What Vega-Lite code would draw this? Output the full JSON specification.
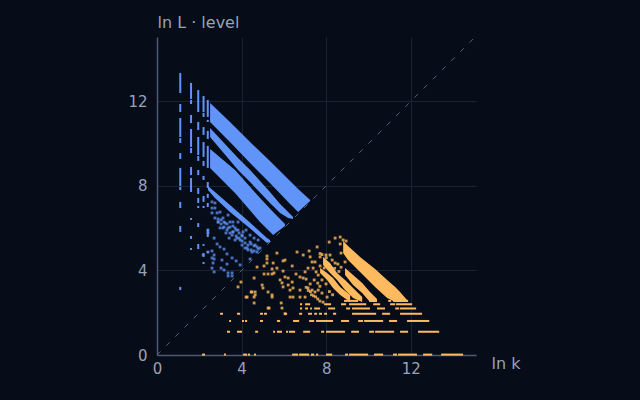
{"$schema":"https://vega.github.io/schema/vega-lite/v6.json","width":319,"height":318,"autosize":{"type":"none"},"padding":{"left":157,"top":37,"right":164,"bottom":45},"background":"#060c18","config":{"view":{"stroke":null},"font":"DejaVu Sans"},
"datasets":{"diag":[{"k":0,"v":0},{"k":15.05,"v":15.05}],
"cols":[{"k":1.1,"a":13.34,"b":12.39},{"k":1.1,"a":11.87,"b":11.49},{"k":1.1,"a":11.21,"b":10.31},{"k":1.1,"a":10.26,"b":10.03},{"k":1.1,"a":9.55,"b":9.27},{"k":1.1,"a":8.85,"b":7.99},{"k":1.1,"a":7.95,"b":7.8},{"k":1.1,"a":7.24,"b":6.95},{"k":1.1,"a":6.1,"b":5.82},{"k":1.1,"a":3.22,"b":3.07},
{"k":1.61,"a":12.87,"b":12.11},{"k":1.61,"a":12.06,"b":11.87},{"k":1.61,"a":11.35,"b":10.97},{"k":1.61,"a":10.69,"b":9.84},{"k":1.61,"a":9.79,"b":9.55},{"k":1.61,"a":8.89,"b":8.51},{"k":1.61,"a":8.37,"b":7.71},{"k":1.61,"a":6.48,"b":6.39},{"k":1.61,"a":5.63,"b":5.49},{"k":1.61,"a":5.06,"b":4.97},
{"k":1.95,"a":12.53,"b":11.49},{"k":1.95,"a":11.02,"b":10.64},{"k":1.95,"a":10.31,"b":9.46},{"k":1.95,"a":9.41,"b":9.18},{"k":1.95,"a":8.75,"b":8.51},{"k":1.95,"a":7.9,"b":7.62},{"k":1.95,"a":7.43,"b":7.19},{"k":1.95,"a":7.05,"b":6.95},{"k":1.95,"a":6.24,"b":6.05},{"k":1.95,"a":5.25,"b":5.01},
{"k":2.2,"a":12.25,"b":11.49},{"k":2.2,"a":11.45,"b":11.26},{"k":2.2,"a":10.78,"b":10.41},{"k":2.2,"a":10.07,"b":9.37},{"k":2.2,"a":9.18,"b":8.94},{"k":2.2,"a":8.47,"b":8.28},{"k":2.2,"a":7.52,"b":7.24},{"k":2.2,"a":7.05,"b":6.95},{"k":2.2,"a":5.25,"b":5.16},{"k":2.2,"a":4.82,"b":4.64},{"k":2.2,"a":4.4,"b":4.3},
{"k":2.4,"a":12.06,"b":11.26},{"k":2.4,"a":11.12,"b":11.02},{"k":2.4,"a":10.6,"b":10.22},{"k":2.4,"a":9.89,"b":8.85},{"k":2.4,"a":8.18,"b":7.9},{"k":2.4,"a":7.62,"b":7.43},{"k":2.4,"a":7.19,"b":7},{"k":2.4,"a":5.96,"b":5.58},{"k":2.4,"a":4.92,"b":4.82}],
"blueBands":[{"g":"1","k":2.51,"a":11.92,"b":11.02},{"g":"1","k":3.45,"a":11.02,"b":10.07},{"g":"1","k":4.4,"a":10.07,"b":9.08},{"g":"1","k":5.34,"a":9.18,"b":8.14},{"g":"1","k":6.29,"a":8.23,"b":7.14},{"g":"1","k":6.67,"a":7.85,"b":6.76},{"g":"1","k":7.24,"a":7.33,"b":7.28},
{"g":"2","k":2.51,"a":10.74,"b":10.31},{"g":"2","k":3.83,"a":9.32,"b":8.75},{"g":"2","k":4.4,"a":8.75,"b":8.18},{"g":"2","k":5.34,"a":7.71,"b":7.19},{"g":"2","k":5.82,"a":7.14,"b":6.72},{"g":"2","k":6.2,"a":6.76,"b":6.48},{"g":"2","k":6.43,"a":6.53,"b":6.43},
{"g":"3","k":2.51,"a":9.74,"b":8.85},{"g":"3","k":3.69,"a":8.75,"b":7.66},{"g":"3","k":4.87,"a":7.43,"b":6.29},{"g":"3","k":5.49,"a":6.76,"b":5.68},{"g":"3","k":6.05,"a":6.2,"b":6.1},
{"g":"4","k":2.41,"a":7.99,"b":7.8},{"g":"4","k":2.74,"a":7.71,"b":7.43},{"g":"4","k":3.45,"a":7.09,"b":6.76},{"g":"4","k":4.26,"a":6.39,"b":6.1},{"g":"4","k":5.2,"a":5.53,"b":5.3},{"g":"4","k":5.34,"a":5.44,"b":5.34}],
"orangeBands":[{"g":"1","k":8.8,"a":5.39,"b":4.82},{"g":"1","k":9.03,"a":5.16,"b":4.49},{"g":"1","k":9.6,"a":4.64,"b":3.93},{"g":"1","k":10.31,"a":4.07,"b":3.22},{"g":"1","k":10.88,"a":3.55,"b":2.7},{"g":"1","k":11.26,"a":3.22,"b":2.51},{"g":"1","k":11.49,"a":2.98,"b":2.51},{"g":"1","k":11.82,"a":2.6,"b":2.51},
{"g":"2","k":8.89,"a":4.11,"b":3.78},{"g":"2","k":9.27,"a":3.78,"b":3.31},{"g":"2","k":9.7,"a":3.41,"b":2.93},{"g":"2","k":10.07,"a":2.98,"b":2.51},{"g":"2","k":10.4,"a":2.65,"b":2.51},
{"g":"3","k":7.85,"a":4.64,"b":4.26},{"g":"3","k":8.18,"a":4.35,"b":3.88},{"g":"3","k":8.51,"a":3.88,"b":3.55},{"g":"3","k":8.89,"a":3.55,"b":3.07},{"g":"3","k":9.27,"a":3.17,"b":2.7},{"g":"3","k":9.7,"a":2.74,"b":2.51},
{"g":"4","k":7.71,"a":4.11,"b":3.88},{"g":"4","k":8.04,"a":3.88,"b":3.55},{"g":"4","k":8.32,"a":3.64,"b":3.17},{"g":"4","k":8.66,"a":3.22,"b":2.84},{"g":"4","k":9.13,"a":2.84,"b":2.51}],
"runs":[{"v":0.02,"a":2.13,"b":2.27},{"v":0.02,"a":3.17,"b":3.26},{"v":0.02,"a":4.07,"b":4.26},{"v":0.02,"a":4.3,"b":4.4},{"v":0.02,"a":4.59,"b":4.68},{"v":0.02,"a":6.39,"b":6.67},{"v":0.02,"a":6.72,"b":7.19},{"v":0.02,"a":7.28,"b":7.43},{"v":0.02,"a":7.52,"b":7.62},{"v":0.02,"a":7.99,"b":8.28},{"v":0.02,"a":8.89,"b":9.03},{"v":0.02,"a":9.08,"b":9.98},{"v":0.02,"a":10.26,"b":10.69},{"v":0.02,"a":11.16,"b":11.35},{"v":0.02,"a":11.4,"b":12.29},{"v":0.02,"a":12.58,"b":13.01},{"v":0.02,"a":13.43,"b":14.47},
{"v":1.1,"a":3.31,"b":3.45},{"v":1.1,"a":3.78,"b":4.02},{"v":1.1,"a":4.64,"b":4.78},{"v":1.1,"a":5.49,"b":5.58},{"v":1.1,"a":5.67,"b":5.91},{"v":1.1,"a":6.1,"b":6.2},{"v":1.1,"a":6.24,"b":6.53},{"v":1.1,"a":6.91,"b":7.24},{"v":1.1,"a":7.76,"b":7.9},{"v":1.1,"a":7.99,"b":8.89},{"v":1.1,"a":9.18,"b":9.55},{"v":1.1,"a":10.03,"b":10.26},{"v":1.1,"a":10.31,"b":11.21},{"v":1.1,"a":11.49,"b":11.87},{"v":1.1,"a":12.34,"b":13.34},
{"v":1.61,"a":3.41,"b":3.5},{"v":1.61,"a":4.02,"b":4.11},{"v":1.61,"a":4.16,"b":4.26},{"v":1.61,"a":4.87,"b":5.01},{"v":1.61,"a":5.67,"b":5.82},{"v":1.61,"a":6.43,"b":6.72},{"v":1.61,"a":7.19,"b":7.43},{"v":1.61,"a":7.52,"b":8.32},{"v":1.61,"a":8.7,"b":9.08},{"v":1.61,"a":9.51,"b":9.74},{"v":1.61,"a":9.79,"b":10.69},{"v":1.61,"a":10.97,"b":11.35},{"v":1.61,"a":11.82,"b":12.87},
{"v":1.95,"a":2.98,"b":3.12},{"v":1.95,"a":3.78,"b":3.93},{"v":1.95,"a":4.87,"b":5.01},{"v":1.95,"a":5.06,"b":5.2},{"v":1.95,"a":6.01,"b":6.15},{"v":1.95,"a":6.72,"b":6.86},{"v":1.95,"a":7.14,"b":7.33},{"v":1.95,"a":7.43,"b":7.57},{"v":1.95,"a":7.66,"b":7.8},{"v":1.95,"a":7.9,"b":8.04},{"v":1.95,"a":8.32,"b":8.47},{"v":1.95,"a":9.22,"b":10.36},{"v":1.95,"a":10.64,"b":11.02},{"v":1.95,"a":11.49,"b":12.53},
{"v":2.2,"a":6.76,"b":6.86},{"v":2.2,"a":7,"b":7.14},{"v":2.2,"a":7.24,"b":7.33},{"v":2.2,"a":7.43,"b":7.71},{"v":2.2,"a":8.09,"b":8.42},{"v":2.2,"a":8.94,"b":9.13},{"v":2.2,"a":9.22,"b":10.07},{"v":2.2,"a":10.4,"b":10.78},{"v":2.2,"a":11.26,"b":11.45},{"v":2.2,"a":11.49,"b":12.25},
{"v":2.4,"a":6.76,"b":6.86},{"v":2.4,"a":7,"b":7.24},{"v":2.4,"a":7.9,"b":8.23},{"v":2.4,"a":8.7,"b":8.94},{"v":2.4,"a":9.08,"b":9.89},{"v":2.4,"a":10.22,"b":10.55},{"v":2.4,"a":11.02,"b":11.26},{"v":2.4,"a":11.3,"b":12.06},
{"v":2.56,"a":8.84,"b":9.51},{"v":2.56,"a":10.03,"b":10.4},{"v":2.56,"a":10.93,"b":11.07},{"v":2.56,"a":11.16,"b":11.87}],
"bluePts":[{"k":2.6,"v":7.24},{"k":2.74,"v":7.19},{"k":2.6,"v":6.95},{"k":2.74,"v":6.95},{"k":2.6,"v":6.72},{"k":2.84,"v":6.72},{"k":2.74,"v":6.48},{"k":2.98,"v":6.76},{"k":3.12,"v":6.48},{"k":2.89,"v":6.29},{"k":3.22,"v":6.24},{"k":3.45,"v":6.29},{"k":3.69,"v":6.01},{"k":3.36,"v":6.01},{"k":2.98,"v":6.01},{"k":3.83,"v":5.91},{"k":3.55,"v":5.67},{"k":3.78,"v":5.53},{"k":4.02,"v":5.67},{"k":4.16,"v":5.53},{"k":4.4,"v":5.34},{"k":4.26,"v":5.06},{"k":4.49,"v":4.87},{"k":4.78,"v":5.01},{"k":4.64,"v":5.2},{"k":4.87,"v":5.06},{"k":4.02,"v":5.2},{"k":3.59,"v":5.82},{"k":4.07,"v":5.82},{"k":3.12,"v":6.01},{"k":3.36,"v":6.62},{"k":3.59,"v":6.29},{"k":3.83,"v":6.29},{"k":3.93,"v":5.44},{"k":3.69,"v":5.44},{"k":3.26,"v":5.77},{"k":3.41,"v":5.53},{"k":4.21,"v":5.91},{"k":4.4,"v":5.67},{"k":4.59,"v":5.53},{"k":4.78,"v":5.44},{"k":2.7,"v":5.53},{"k":2.84,"v":5.25},{"k":2.98,"v":5.11},{"k":3.17,"v":5.01},{"k":3.31,"v":4.78},{"k":3.55,"v":4.59},{"k":3.74,"v":4.45},{"k":3.93,"v":4.26},{"k":2.18,"v":4.73},{"k":2.6,"v":4.92},{"k":2.41,"v":4.87},{"k":2.7,"v":4.73},{"k":2.6,"v":4.59},{"k":2.7,"v":4.54},{"k":3.07,"v":4.49},{"k":2.65,"v":4.35},{"k":2.6,"v":4.11},{"k":3.31,"v":4.3},{"k":3.03,"v":4.11},{"k":3.17,"v":4.02},{"k":2.7,"v":3.93},{"k":3.36,"v":3.88},{"k":3.55,"v":3.88},{"k":3.36,"v":3.74},{"k":3.55,"v":3.74},{"k":4.4,"v":4.54},{"k":2.41,"v":5.77},{"k":2.41,"v":5.91},
{"k":2.89,"v":6.43},{"k":2.89,"v":6.29},{"k":3.03,"v":6.39},{"k":3.03,"v":6.2},{"k":3.17,"v":6.29},{"k":3.17,"v":6.05},{"k":3.31,"v":6.2},{"k":3.31,"v":5.91},{"k":3.45,"v":6.05},{"k":3.45,"v":5.77},{"k":3.59,"v":6.1},{"k":3.59,"v":5.82},{"k":3.74,"v":5.91},{"k":3.74,"v":5.63},{"k":3.88,"v":5.77},{"k":3.88,"v":5.53},{"k":4.02,"v":5.63},{"k":4.02,"v":5.39},{"k":4.16,"v":5.3},{"k":4.16,"v":5.06},{"k":4.3,"v":5.2},{"k":4.3,"v":4.97},{"k":4.45,"v":5.25},{"k":4.45,"v":4.97},{"k":4.59,"v":5.16},{"k":4.59,"v":4.92},{"k":4.73,"v":5.11},{"k":4.73,"v":4.87}],
"orangePts":[{"k":7.57,"v":5.11},{"k":8.14,"v":5.34},{"k":8.66,"v":5.25},{"k":8.42,"v":5.53},{"k":8.66,"v":5.58},{"k":8.8,"v":5.44},{"k":8.94,"v":5.39},{"k":8.7,"v":4.82},{"k":7.19,"v":4.92},{"k":5.67,"v":4.82},{"k":6.62,"v":4.87},{"k":6.91,"v":4.73},{"k":5.2,"v":4.68},{"k":5.2,"v":4.54},{"k":5.96,"v":4.45},{"k":6.05,"v":4.49},{"k":5.49,"v":4.35},{"k":5.06,"v":4.21},{"k":5.2,"v":4.35},{"k":6.39,"v":4.21},{"k":4.73,"v":4.16},{"k":5.44,"v":4.07},{"k":5.67,"v":4.11},{"k":7.14,"v":4.11},{"k":7.38,"v":4.11},{"k":7.71,"v":4.21},{"k":7.24,"v":4.64},{"k":7.47,"v":4.4},{"k":7.71,"v":4.64},{"k":7.33,"v":4.4},{"k":7.99,"v":4.73},{"k":8.18,"v":4.73},{"k":8.28,"v":4.49},{"k":8.42,"v":4.35},{"k":7.52,"v":3.93},{"k":5.96,"v":3.97},{"k":5.06,"v":3.83},{"k":5.25,"v":3.83},{"k":5.44,"v":3.83},{"k":5.53,"v":3.88},{"k":6.57,"v":3.83},{"k":6.76,"v":3.69},{"k":6.91,"v":3.64},{"k":4.59,"v":3.64},{"k":6.05,"v":3.69},{"k":6.2,"v":3.64},{"k":5.82,"v":3.55},{"k":5.91,"v":3.41},{"k":5.96,"v":3.22},{"k":6.39,"v":3.45},{"k":3.97,"v":3.45},{"k":4.97,"v":3.31},{"k":5.01,"v":3.17},{"k":6.2,"v":3.31},{"k":6.29,"v":3.07},{"k":6.43,"v":3.17},{"k":6.76,"v":3.07},{"k":7.14,"v":3.17},{"k":7.33,"v":3.07},{"k":7.47,"v":2.98},{"k":5.25,"v":2.98},{"k":5.44,"v":2.74},{"k":4.45,"v":2.98},{"k":4.64,"v":2.98},{"k":4.64,"v":2.84},{"k":4.21,"v":2.74},{"k":4.59,"v":2.74},{"k":4.59,"v":2.46},{"k":6.29,"v":2.74},{"k":6.43,"v":2.74},{"k":5.91,"v":2.22},{"k":5.25,"v":2.22},{"k":5.87,"v":2.46},{"k":6.76,"v":2.74},{"k":7,"v":2.74},{"k":3.83,"v":3.22},{"k":4.26,"v":2.74},{"k":4.49,"v":2.98},{"k":5.44,"v":2.84},{"k":5.3,"v":2.22},{"k":6.05,"v":1.95},{"k":7.62,"v":3.78},{"k":7.8,"v":3.55},{"k":7.99,"v":3.36},{"k":7.62,"v":3.07},{"k":7.8,"v":2.93},{"k":8.04,"v":2.74},{"k":7.05,"v":3.59},{"k":7.24,"v":3.36},{"k":7.43,"v":3.55},{"k":7,"v":3.93},{"k":7.9,"v":4.11},{"k":8.14,"v":4.11},{"k":7.95,"v":4.4},{"k":8.28,"v":4.02},{"k":8.89,"v":4.4},{"k":7.71,"v":4.8},{"k":7.8,"v":4.75},{"k":8,"v":4.6},{"k":8.4,"v":4.1},{"k":8.6,"v":3.95},{"k":8.55,"v":4.3},{"k":8.7,"v":4.15},{"k":7.6,"v":3.4},{"k":7.7,"v":3.25},{"k":8.15,"v":3},{"k":8.3,"v":2.85},
{"k":7.05,"v":3.2},{"k":7.15,"v":3.05},{"k":7.25,"v":3},{"k":7.3,"v":2.85},{"k":7.4,"v":2.8},{"k":7.5,"v":2.75},{"k":7.6,"v":2.65},{"k":7.7,"v":2.55},{"k":7.85,"v":2.5}]},
"encoding":{"x":{"type":"quantitative","scale":{"domain":[0,15.08],"nice":false},"axis":{"values":[0,4,8,12],"format":"d","title":"ln k","titleAngle":0,"titleAlign":"left","titleBaseline":"alphabetic","titleX":334,"titleY":13,"titleFont":"DejaVu Sans","titleFontSize":16,"titleFontWeight":"normal","titleColor":"#97a3b8","labelFont":"DejaVu Sans","labelFontSize":15,"labelColor":"#97a3b8","labelPadding":6,"labelFlush":false,"labelOverlap":false,"labelBound":false,"ticks":false,"domainColor":"#4d5a72","domainWidth":1.5,"gridColor":"#1a2233","gridWidth":1}},"y":{"type":"quantitative","scale":{"domain":[0,15.04],"nice":false},"axis":{"values":[0,4,8,12],"format":"d","title":"ln L · level","titleAngle":0,"titleAlign":"left","titleBaseline":"alphabetic","titleX":0,"titleY":-10,"titleFont":"DejaVu Sans","titleFontSize":16,"titleFontWeight":"normal","titleColor":"#97a3b8","labelFont":"DejaVu Sans","labelFontSize":15,"labelColor":"#97a3b8","labelPadding":10,"labelFlush":false,"ticks":false,"domainColor":"#4d5a72","domainWidth":1.5,"gridColor":"#1a2233","gridWidth":1}}},
"layer":[
{"data":{"name":"diag"},"mark":{"type":"line","stroke":"#55617a","strokeWidth":1,"strokeDash":[5,8]},"encoding":{"x":{"field":"k"},"y":{"field":"v"}}},
{"data":{"name":"blueBands"},"mark":{"type":"area","color":"#6094f8","opacity":1},"encoding":{"x":{"field":"k"},"y":{"field":"a"},"y2":{"field":"b"},"detail":{"field":"g"}}},
{"data":{"name":"cols"},"mark":{"type":"rule","color":"#6094f8","strokeWidth":2},"encoding":{"x":{"field":"k"},"y":{"field":"a"},"y2":{"field":"b"}}},
{"data":{"name":"bluePts"},"mark":{"type":"point","shape":"square","filled":true,"size":8,"color":"#6094f8","opacity":0.75},"encoding":{"x":{"field":"k"},"y":{"field":"v"}}},
{"data":{"name":"orangeBands"},"mark":{"type":"area","color":"#ffb95f","opacity":1},"encoding":{"x":{"field":"k"},"y":{"field":"a"},"y2":{"field":"b"},"detail":{"field":"g"}}},
{"data":{"name":"runs"},"mark":{"type":"rule","color":"#ffb95f","strokeWidth":2},"encoding":{"x":{"field":"a"},"x2":{"field":"b"},"y":{"field":"v"}}},
{"data":{"name":"orangePts"},"mark":{"type":"point","shape":"square","filled":true,"size":8,"color":"#ffb95f","opacity":0.8},"encoding":{"x":{"field":"k"},"y":{"field":"v"}}}
]}
